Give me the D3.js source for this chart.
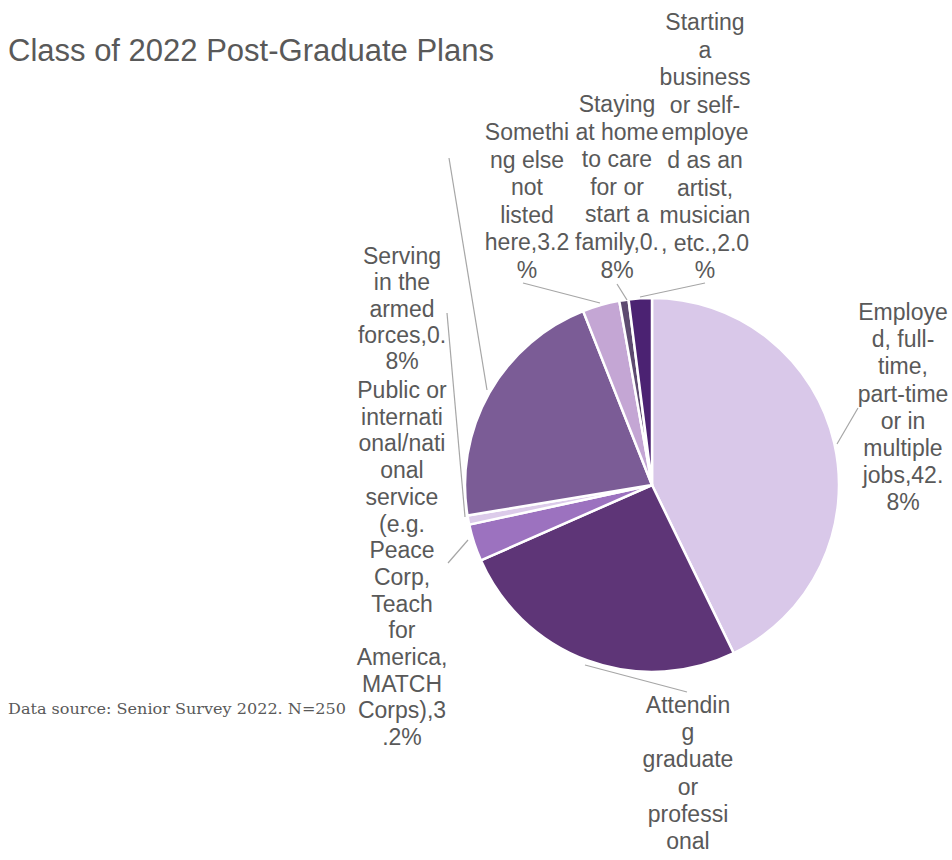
<!DOCTYPE html>
<html>
<head>
<meta charset="utf-8">
<script src="https://cdn.jsdelivr.net/npm/d3@7"></script>
<style>
  html, body { margin: 0; padding: 0; background: #fff; }
  svg { display: block; }
</style>
</head>
<body>
<svg id="chart" width="952" height="860"></svg>
<script>
// ---- data ----
const categories = [
  "Employed, full-time, part-time or in multiple jobs",
  "Attending graduate or professional school",
  "Public or international/national service (e.g. Peace Corp, Teach for America, MATCH Corps)",
  "Serving in the armed forces",
  "Seeking employment",
  "Something else not listed here",
  "Staying at home to care for or start a family",
  "Starting a business or self-employed as an artist, musician, etc."
];
const values = [42.8, 25.6, 3.2, 0.8, 21.6, 3.2, 0.8, 2.0];
// label text as wrapped in the picture (lines past the bottom edge are not visible)
const labelLines = [
  ["Employe", "d, full-", "time,", "part-time", "or in", "multiple", "jobs,42.", "8%"],
  ["Attendin", "g", "graduate", "or", "professi", "onal"],
  ["Public or", "internati", "onal/nati", "onal", "service", "(e.g.", "Peace", "Corp,", "Teach", "for", "America,", "MATCH", "Corps),3", ".2%"],
  ["Serving", "in the", "armed", "forces,0.", "8%"],
  null,
  ["Somethi", "ng else", "not", "listed", "here,3.2", "%"],
  ["Staying", "at home", "to care", "for or", "start a", "family,0.", "8%"],
  ["Starting", "a", "business", "or self-", "employe", "d as an", "artist,", "musician", ", etc.,2.0", "%"]
];
const title = "Class of 2022 Post-Graduate Plans";
const sourceNote = "Data source: Senior Survey 2022. N=250";

// ---- styles / layout ----
const colors = ["#d9c8e9", "#5e3577", "#9c72bf", "#dccbea", "#7b5c96", "#c4a6d4", "#5d4a70", "#4b2272"];
// label block: centre x, first-line centre y, line step; leader: [label end, slice end]
const labelLayout = [
  { x: 903, y: 312, step: 27.2, leader: [[858, 408], [837, 444]] },
  { x: 688, y: 705, step: 27.2, leader: [[687, 692], [585, 665]] },
  { x: 402, y: 390, step: 26.7, leader: [[448, 563], [468, 540]] },
  { x: 402, y: 256, step: 26.3, leader: [[447, 313], [465, 517]] },
  { x: 0, y: 0, step: 27, leader: [[449, 158], [487, 390]] },
  { x: 527, y: 132, step: 27.6, leader: [[523, 283], [600, 303]] },
  { x: 617, y: 104, step: 27.6, leader: [[617, 284], [627, 300]] },
  { x: 705, y: 22, step: 27.6, leader: [[705, 283], [640, 297]] }
];
const cx = 652, cy = 485, R = 187;

const svg = d3.select("#chart");

svg.append("text")
  .attr("x", 8).attr("y", 61)
  .attr("font-family", "Liberation Sans, Arial, sans-serif")
  .attr("font-size", 31)
  .attr("fill", "#595959")
  .text(title);

const data = categories.map((c, i) => ({ category: c, value: values[i], idx: i }));
const pie = d3.pie().sort(null).value(d => d.value);
const arc = d3.arc().innerRadius(0).outerRadius(R);
const arcs = pie(data);

const g = svg.append("g").attr("transform", `translate(${cx},${cy})`);
g.selectAll("path.slice")
  .data(arcs)
  .join("path")
  .attr("class", "slice")
  .attr("d", arc)
  .attr("fill", d => colors[d.data.idx])
  .attr("stroke", "#fff")
  .attr("stroke-width", 2.5)
  .attr("stroke-linejoin", "round");

// leader lines
svg.append("g").selectAll("line")
  .data(labelLayout)
  .join("line")
  .attr("x1", d => d.leader[0][0]).attr("y1", d => d.leader[0][1])
  .attr("x2", d => d.leader[1][0]).attr("y2", d => d.leader[1][1])
  .attr("stroke", "#a6a6a6")
  .attr("stroke-width", 1.2);

// labels
const lg = svg.append("g")
  .attr("font-family", "Liberation Sans, Arial, sans-serif")
  .attr("font-size", 23)
  .attr("fill", "#595959")
  .attr("text-anchor", "middle");
labelLines.forEach((lines, i) => {
  if (!lines) return;
  const L = labelLayout[i];
  const t = lg.append("text").attr("x", L.x).attr("y", L.y);
  lines.forEach((ln, k) => {
    t.append("tspan").attr("x", L.x).attr("y", L.y + k * L.step).attr("dy", "0.35em").text(ln);
  });
});

svg.append("text")
  .attr("x", 8).attr("y", 714)
  .attr("font-family", "DejaVu Serif, serif")
  .attr("font-size", 15)
  .attr("fill", "#595959")
  .attr("textLength", 338)
  .attr("lengthAdjust", "spacingAndGlyphs")
  .text(sourceNote);
</script>
</body>
</html>
